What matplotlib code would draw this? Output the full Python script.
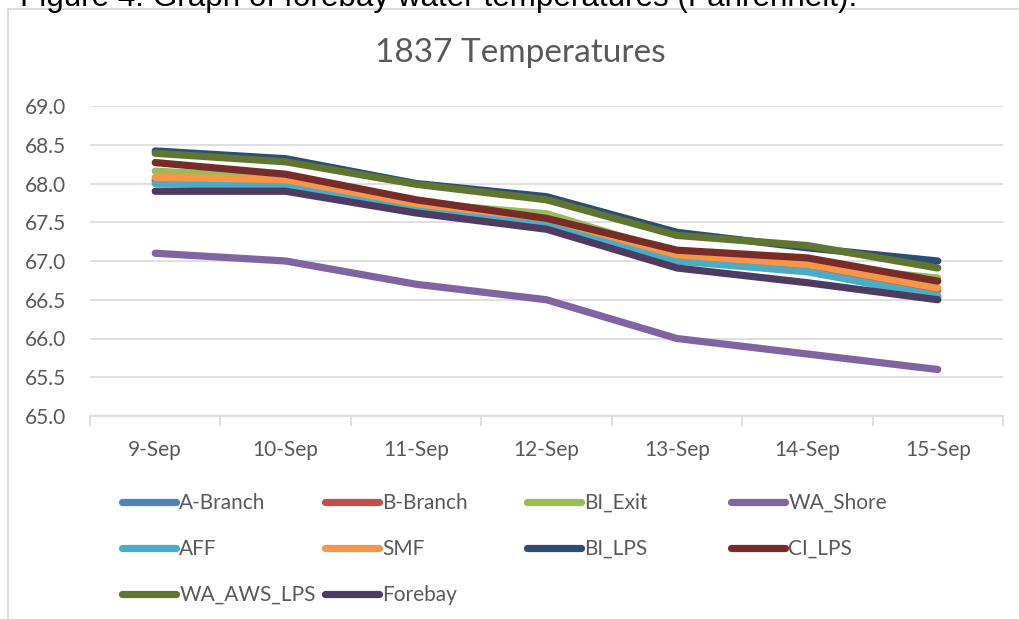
import numpy as np
import matplotlib
matplotlib.use('Agg')
import matplotlib.pyplot as plt
from matplotlib.lines import Line2D

plt.rcParams['font.family'] = ['Lato', 'DejaVu Sans']

# ── data ──
dates = ['9-Sep', '10-Sep', '11-Sep', '12-Sep', '13-Sep', '14-Sep', '15-Sep']
a_branch   = [68.03, 67.97, 67.70, 67.47, 67.02, 66.88, 66.53]
b_branch   = [68.05, 68.00, 67.72, 67.50, 67.05, 66.90, 66.62]
bi_exit    = [68.16, 68.07, 67.75, 67.61, 67.10, 66.95, 66.78]
wa_shore   = [67.10, 67.00, 66.70, 66.50, 66.00, 65.80, 65.60]
aff        = [68.00, 67.96, 67.68, 67.46, 67.00, 66.86, 66.55]
smf        = [68.08, 68.05, 67.74, 67.55, 67.08, 66.96, 66.65]
bi_lps     = [68.42, 68.32, 68.00, 67.83, 67.37, 67.17, 67.00]
ci_lps     = [68.27, 68.12, 67.79, 67.55, 67.14, 67.04, 66.74]
wa_aws_lps = [68.39, 68.28, 67.99, 67.79, 67.33, 67.20, 66.91]
forebay    = [67.90, 67.90, 67.62, 67.41, 66.91, 66.72, 66.50]

names = ['A-Branch', 'B-Branch', 'BI_Exit', 'WA_Shore', 'AFF', 'SMF',
         'BI_LPS', 'CI_LPS', 'WA_AWS_LPS', 'Forebay']
series = [a_branch, b_branch, bi_exit, wa_shore, aff, smf,
          bi_lps, ci_lps, wa_aws_lps, forebay]
colors = ['#4F81BD', '#C0504D', '#9BBB59', '#8064A2', '#4BACC6', '#F79646',
          '#2C4D75', '#772C2A', '#5F7530', '#4D3B62']

W, H = 1019, 619
fig = plt.figure(figsize=(W / 100, H / 100), dpi=100)

# chart frame: only the top and left edges fall inside the crop
top_y = 1 - 8.5 / H
left_x = 7.5 / W
fig.add_artist(Line2D([left_x, 1.0], [top_y, top_y], transform=fig.transFigure,
                      color='#D9D9D9', linewidth=1.3))
fig.add_artist(Line2D([left_x, left_x], [0, top_y], transform=fig.transFigure,
                      color='#D9D9D9', linewidth=1.3))

# caption cut off at the top
fig.text(20 / W, 1 - 6 / H, 'Figure 4. Graph of forebay water temperatures (Fahrenheit).',
         fontsize=22.6, family='Liberation Sans', color='black', va='baseline', ha='left')

ax = fig.add_axes([90 / W, 1 - 416 / H, (1003 - 90) / W, (416 - 106) / H])
x = np.arange(len(dates))
lines = []
for name, vals, c in zip(names, series, colors):
    ln, = ax.plot(x, vals, color=c, linewidth=5.2, solid_capstyle='round',
                  solid_joinstyle='round', label=name)
    lines.append(ln)

ax.set_xlim(-0.5, len(dates) - 0.5)
ax.set_ylim(65, 69)
ax.set_yticks(np.arange(65, 69.01, 0.5))
ax.set_yticklabels([f'{v:.1f}' for v in np.arange(65, 69.01, 0.5)])
ax.set_xticks(x)
ax.set_xticklabels(dates)
ax.set_xticks(np.arange(-0.5, len(dates)), minor=True)
ax.tick_params(axis='x', which='major', length=0, pad=17, labelsize=15, labelcolor='#595959')
ax.tick_params(axis='x', which='minor', length=7, width=1.2, color='#D9D9D9', direction='out')
ax.tick_params(axis='y', length=0, pad=17, labelsize=15, labelcolor='#595959')
ax.grid(axis='y', color='#D9D9D9', linewidth=1.2)
ax.set_axisbelow(True)
for s in ['top', 'right', 'left']:
    ax.spines[s].set_visible(False)
ax.spines['bottom'].set_color('#D9D9D9')
ax.spines['bottom'].set_linewidth(1.2)

fig.text(520 / W, 1 - 53 / H, '1837 Temperatures', fontsize=24, color='#595959',
         ha='center', va='center')

# legend: 4 equal-width columns, row-major order like Excel
col_x = [122, 325, 527, 731]
for j in range(4):
    idx = list(range(j, len(names), 4))
    fig.legend([lines[i] for i in idx], [names[i] for i in idx],
               loc='upper left', bbox_to_anchor=(col_x[j] / W, 1 - 493 / H),
               frameon=False, fontsize=15, handlelength=2.6, handletextpad=0.15,
               labelspacing=1.25, borderpad=0, borderaxespad=0, labelcolor='#595959')

fig.savefig('out.png', dpi=100)
